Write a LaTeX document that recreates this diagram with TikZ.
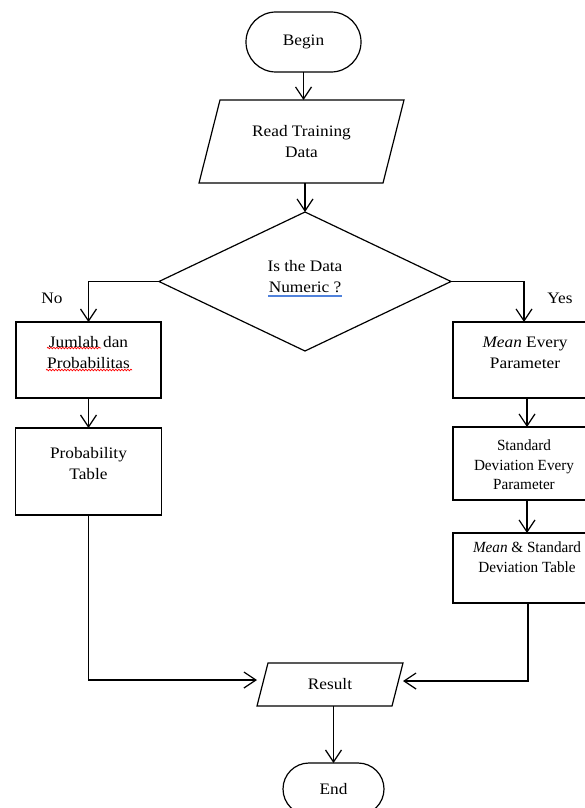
\documentclass[tikz,border=0pt]{standalone}
\usepackage{fontspec}
\setmainfont[FakeStretch=1.08]{Liberation Serif}
\newfontfamily\condserif[FakeStretch=0.98]{Liberation Serif}
\usetikzlibrary{arrows.meta,shapes.geometric,shapes.misc,decorations.pathmorphing}
\definecolor{spellblue}{RGB}{80,130,220}
\begin{document}
\begin{tikzpicture}[x=1pt,y=-1pt, line width=1.2pt,
  every node/.style={font=\fontsize{16}{21}\selectfont, inner sep=0pt, outer sep=0pt},
  flow/.style={-{Straight Barb[length=12pt,width=16pt]}},
  term/.style={draw, rounded rectangle},
  boxnode/.style={draw, rectangle},
  txt/.style={align=center},
  smalltxt/.style={align=center, font=\condserif\fontsize{15.5}{19.5}\selectfont},
  wavy/.style={draw=red, line width=0.7pt, decorate, decoration={snake, segment length=3pt, amplitude=0.8pt}},
  grammar/.style={draw=spellblue, line width=1.4pt}
]
\useasboundingbox (0,0) rectangle (585,808);
% Begin
\node[term, minimum width=115pt, minimum height=60pt] (bg) at (303.5,42) {Begin};
% Read Training Data
\node[minimum width=205pt, minimum height=83pt, align=center] (rd) at (301.5,141.5) {Read Training\\Data};
\draw ([xshift=21pt]rd.north west) -- (rd.north east) -- ([xshift=-21pt]rd.south east) -- (rd.south west) -- cycle;
% Decision
\node[draw, diamond, minimum width=292pt, minimum height=139pt] (dec) at (305,281.5) {};
\node[txt] (dect) at (305,276.5) {Is the Data\\Numeric ?};
\draw[grammar] (268,296) -- (342,296);
% Left column
\node[boxnode, minimum width=145pt, minimum height=76pt] (jp) at (88.5,360) {};
\node[txt] (jpt) at (88.5,352.5) {Jumlah dan\\Probabilitas};
\draw[wavy] (47,348) -- (101,348);
\draw[wavy] (46,370) -- (132,370);
\node[boxnode, minimum width=146pt, minimum height=87pt] (pt) at (88.5,471.5) {};
\node[txt] (ptt) at (88.5,463.5) {Probability\\Table};
% Right column
\node[boxnode, minimum width=162pt, minimum height=76pt] (me) at (534,360) {};
\node[txt] (met) at (525,352.5) {\textit{Mean} Every\\Parameter};
\node[boxnode, minimum width=162pt, minimum height=73pt] (sd) at (534,463.5) {};
\node[smalltxt] (sdt) at (524,465) {Standard\\Deviation Every\\Parameter};
\node[boxnode, minimum width=162pt, minimum height=70pt] (ms) at (534,568) {};
\node[smalltxt] (mst) at (527,557) {\textit{Mean} \& Standard\\Deviation Table};
% Result
\node[minimum width=146pt, minimum height=43pt] (res) at (330,684.5) {Result};
\draw ([xshift=11pt]res.north west) -- (res.north east) -- ([xshift=-11pt]res.south east) -- (res.south west) -- cycle;
% End
\node[term, minimum width=101pt, minimum height=52pt] (en) at (333.5,789) {End};
% Branch labels
\node (no) at (52,298) {No};
\node (yes) at (560,298) {Yes};
% Connectors
\draw[flow] (bg.south) -- (bg.south |- rd.north);
\draw[flow] (rd.south -| dec.north) -- (dec.north);
\draw[flow] (dec.west) -| (jp.north);
\draw[flow] (jp.south) -- (pt.north);
\coordinate (lj) at (88.5,680);
\draw[flow] (pt.south) -- (lj) -- (lj -| res.west);
\coordinate (yb) at (524,281.5);
\draw[flow] (dec.east) -- (yb) -- (yb |- me.north);
\coordinate (rc) at (527,0);
\draw[flow] (me.south -| rc) -- (sd.north -| rc);
\draw[flow] (sd.south -| rc) -- (ms.north -| rc);
\coordinate (rj) at (528,681);
\draw[flow] (ms.south -| rj) -- (rj) -- (rj -| res.east);
\draw[flow] (res.south -| en.north) -- (en.north);
\end{tikzpicture}
\end{document}
